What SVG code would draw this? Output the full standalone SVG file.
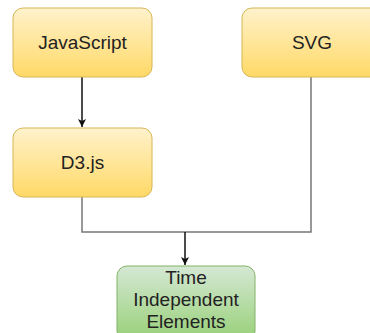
<svg xmlns="http://www.w3.org/2000/svg" width="370" height="333" viewBox="0 0 370 333">
<style>
.lbl{font-family:"Liberation Sans",Arial,sans-serif;font-size:19px;fill:#222;text-anchor:middle}
.y{fill:url(#gy);stroke:#d6b656;stroke-width:1}
.g{fill:url(#gg);stroke:#82b366;stroke-width:1}
.ln{fill:none;stroke:#777;stroke-width:1.5}
.ar{fill:none;stroke:#111;stroke-width:1.5}
</style>
<defs>
<linearGradient id="gy" x1="0" y1="0" x2="0" y2="1"><stop offset="0" stop-color="#fff2cc"/><stop offset="1" stop-color="#ffd966"/></linearGradient>
<linearGradient id="gg" x1="0" y1="0" x2="0" y2="1"><stop offset="0" stop-color="#d5e8d4"/><stop offset="1" stop-color="#97d077"/></linearGradient>
<marker id="ah" markerWidth="10" markerHeight="10" refX="9" refY="5" orient="auto" markerUnits="userSpaceOnUse"><path d="M1,1 L9,5 L1,9 L3,5 Z" fill="#111"/></marker>
</defs>
<rect width="370" height="333" fill="#fff"/>
<g id="connectors">
<path class="ar" d="M82,77 V127" marker-end="url(#ah)"/>
<path class="ln" d="M82,197 V232 H311 V77"/>
<path class="ar" d="M185,232 V265" marker-end="url(#ah)"/>
</g>
<g id="javascript"><rect class="y" x="13" y="8" width="139" height="69" rx="10"/><text class="lbl" x="82.5" y="49">JavaScript</text></g>
<g id="svg"><rect class="y" x="242" y="8" width="139" height="69" rx="10"/><text class="lbl" x="312" y="49">SVG</text></g>
<g id="d3"><rect class="y" x="13" y="128" width="139" height="69" rx="10"/><text class="lbl" x="82.5" y="169">D3.js</text></g>
<g id="tie"><rect class="g" x="117" y="266" width="138" height="75" rx="10"/><text class="lbl" x="186" y="284">Time</text><text class="lbl" x="186" y="306">Independent</text><text class="lbl" x="186" y="328">Elements</text></g>
</svg>
